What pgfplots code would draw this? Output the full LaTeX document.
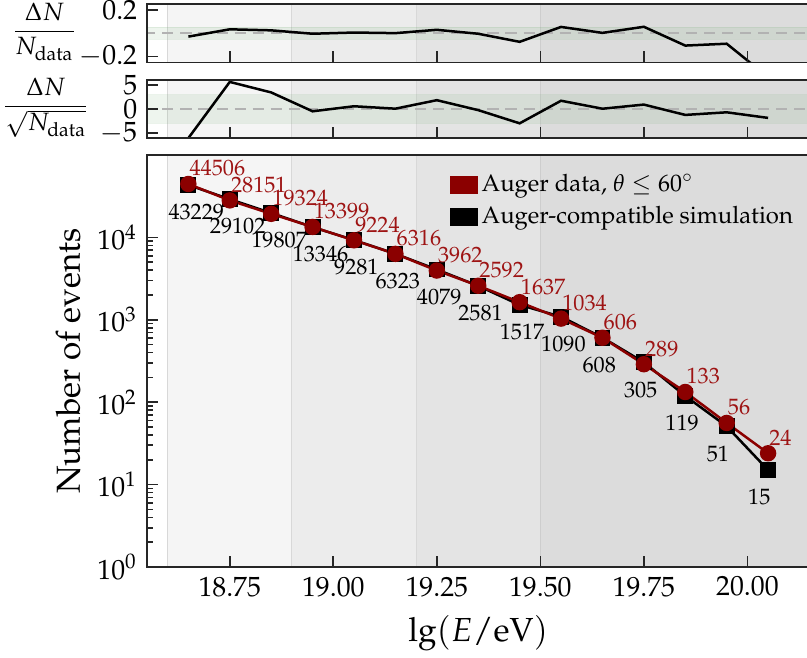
\documentclass[border=0pt]{standalone}
\usepackage[T1]{fontenc}
\usepackage{mathpazo}
\usepackage{pgfplots}
\pgfplotsset{compat=1.18}
\definecolor{datared}{RGB}{139,0,0}
\definecolor{labred}{RGB}{158,20,20}
\definecolor{bandA}{HTML}{F5F5F5}
\definecolor{bandB}{HTML}{ECECEC}
\definecolor{bandC}{HTML}{E4E4E4}
\definecolor{bandD}{HTML}{DCDCDC}
\definecolor{bandE}{HTML}{D8D8D8}
\definecolor{greenband}{RGB}{120,175,120}
\newcommand{\bands}[2]{%
  \fill[bandA] (axis cs:18.6,#1) rectangle (axis cs:18.9,#2);
  \fill[bandB] (axis cs:18.9,#1) rectangle (axis cs:19.2,#2);
  \fill[bandC] (axis cs:19.2,#1) rectangle (axis cs:19.5,#2);
  \fill[bandD] (axis cs:19.5,#1) rectangle (axis cs:20.3,#2);
  \draw[bandE, line width=0.4pt] (axis cs:18.6,#1) -- (axis cs:18.6,#2);
  \draw[bandE, line width=0.4pt] (axis cs:18.9,#1) -- (axis cs:18.9,#2);
  \draw[bandE, line width=0.4pt] (axis cs:19.2,#1) -- (axis cs:19.2,#2);
  \draw[bandE!95!black, line width=0.4pt] (axis cs:19.5,#1) -- (axis cs:19.5,#2);
}
\begin{document}
\begin{tikzpicture}
\pgfplotsset{
  every axis/.append style={
    scale only axis, width=238.5pt, xmin=18.55, xmax=20.15,
    tick align=inside, major tick length=4pt, minor tick length=2pt,
    axis line style={line width=0.7pt, black!85},
    every tick/.style={black!85, line width=0.6pt},
    xtick={18.75,19.00,19.25,19.50,19.75,20.00},
    xtick pos=left, ytick pos=left, axis on top,
    tick label style={font=\normalsize},
  },
}
% top panel
\begin{axis}[at={(0pt,181.6pt)}, anchor=south west, height=21.06pt,
  ymin=-0.25, ymax=0.25, ytick={-0.2,0.2}, xticklabels={},
  ylabel={$\displaystyle\frac{\Delta N}{N_\mathrm{data}}$},
  ylabel style={rotate=-90, font=\small, at={(axis description cs:0,0.5)}, anchor=center, xshift=-36.9pt, yshift=0.5pt}]
  \bands{-1}{1}
  \fill[greenband, fill opacity=0.13] (axis cs:18.5,-0.05) rectangle (axis cs:20.3,0.05);
  \draw[greenband, opacity=0.15, line width=0.4pt] (axis cs:18.5,-0.05) -- (axis cs:20.3,-0.05) (axis cs:18.5,0.05) -- (axis cs:20.3,0.05);
  \addplot[black!30, dashed, line width=0.8pt, dash pattern=on 4pt off 2.5pt, forget plot] coordinates {(18.5,0) (20.3,0)};
  \addplot[black, line width=0.9pt] coordinates {
    (18.65,-0.0287) (18.75,0.0338) (18.85,0.0250) (18.95,-0.0040) (19.05,0.0062)
    (19.15,0.0011) (19.25,0.0295) (19.35,-0.0042) (19.45,-0.0733) (19.55,0.0542)
    (19.65,0.0033) (19.75,0.0554) (19.85,-0.1053) (19.95,-0.0893) (20.05,-0.375)};
\end{axis}
% middle panel
\begin{axis}[at={(0pt,154.3pt)}, anchor=south west, height=21.06pt,
  ymin=-6.1, ymax=6.1, ytick={-5,0,5}, xticklabels={},
  ylabel={$\displaystyle\frac{\Delta N}{\sqrt{N_\mathrm{data}}}$},
  ylabel style={rotate=-90, font=\small, at={(axis description cs:0,0.5)}, anchor=center, xshift=-36.4pt, yshift=0.5pt}]
  \bands{-10}{10}
  \fill[greenband, fill opacity=0.13] (axis cs:18.5,-3) rectangle (axis cs:20.3,3);
  \draw[greenband, opacity=0.15, line width=0.4pt] (axis cs:18.5,-3) -- (axis cs:20.3,-3) (axis cs:18.5,3) -- (axis cs:20.3,3);
  \addplot[black!30, dashed, line width=0.8pt, dash pattern=on 4pt off 2.5pt, forget plot] coordinates {(18.5,0) (20.3,0)};
  \addplot[black, line width=0.9pt] coordinates {
    (18.65,-6.053) (18.75,5.668) (18.85,3.475) (18.95,-0.458) (19.05,0.593)
    (19.15,0.088) (19.25,1.859) (19.35,-0.216) (19.45,-2.966) (19.55,1.741)
    (19.65,0.081) (19.75,0.941) (19.85,-1.214) (19.95,-0.668) (20.05,-1.837)};
\end{axis}
% main panel
\begin{axis}[at={(0pt,0pt)}, anchor=south west, height=148.3pt,
  ymode=log, ymin=1, ymax=1e5, ytick={1,10,100,1000,10000},
  xticklabel style={/pgf/number format/.cd, fixed, fixed zerofill, precision=2},
  xlabel={\large lg$(E/\mathrm{eV})$},
  ylabel={\large Number of events},
  ylabel style={at={(axis description cs:0,0.5)}, anchor=center, yshift=28.4pt},
  legend style={draw=none, fill=none, at={(rel axis cs:0.457,0.965)}, anchor=north west,
    font=\fontsize{8.6}{10.4}\selectfont, row sep=0.8pt, inner sep=0pt, nodes={inner sep=1.5pt}},
  legend cell align=left]
  \bands{0.5}{2e5}
  \addlegendimage{legend image code/.code={\fill[datared] (0pt,-2.9pt) rectangle (9.4pt,2.9pt);}}
  \addlegendentry{Auger data, $\theta \leq 60^\circ$}
  \addlegendimage{legend image code/.code={\fill[black] (0pt,-2.9pt) rectangle (9.4pt,2.9pt);}}
  \addlegendentry{Auger-compatible simulation}
  \addplot[black, line width=0.9pt, mark=square*, mark size=2.4pt, mark options={solid, fill=black},
    nodes near coords, point meta=explicit symbolic, forget plot,
    every node near coord/.style={anchor=north west, inner sep=0pt, xshift=-7.6pt, yshift=-6.5pt, font=\footnotesize, text=black}]
    coordinates {
    (18.65,43229) [43229] (18.75,29102) [29102] (18.85,19807) [19807] (18.95,13346) [13346]
    (19.05,9281) [9281] (19.15,6323) [6323] (19.25,4079) [4079] (19.35,2581) [2581]
    (19.45,1517) [1517] (19.55,1090) [1090] (19.65,608) [608] (19.75,305) [305]
    (19.85,119) [119] (19.95,51) [51] (20.05,15) [15]};
  \addplot[datared, line width=0.9pt, mark=*, mark size=2.5pt, mark options={solid, fill=datared},
    nodes near coords, point meta=explicit symbolic, forget plot,
    every node near coord/.style={anchor=base west, inner sep=0pt, xshift=0pt, yshift=2.9pt, font=\footnotesize, text=labred}]
    coordinates {
    (18.65,44506) [44506] (18.75,28151) [28151] (18.85,19324) [19324] (18.95,13399) [13399]
    (19.05,9224) [9224] (19.15,6316) [6316] (19.25,3962) [3962] (19.35,2592) [2592]
    (19.45,1637) [1637] (19.55,1034) [1034] (19.65,606) [606] (19.75,289) [289]
    (19.85,133) [133] (19.95,56) [56] (20.05,24) [24]};
\end{axis}
\pgfresetboundingbox
\path (-52.9pt,-32.4pt) rectangle (237.6pt,204.1pt);
\end{tikzpicture}
\end{document}
